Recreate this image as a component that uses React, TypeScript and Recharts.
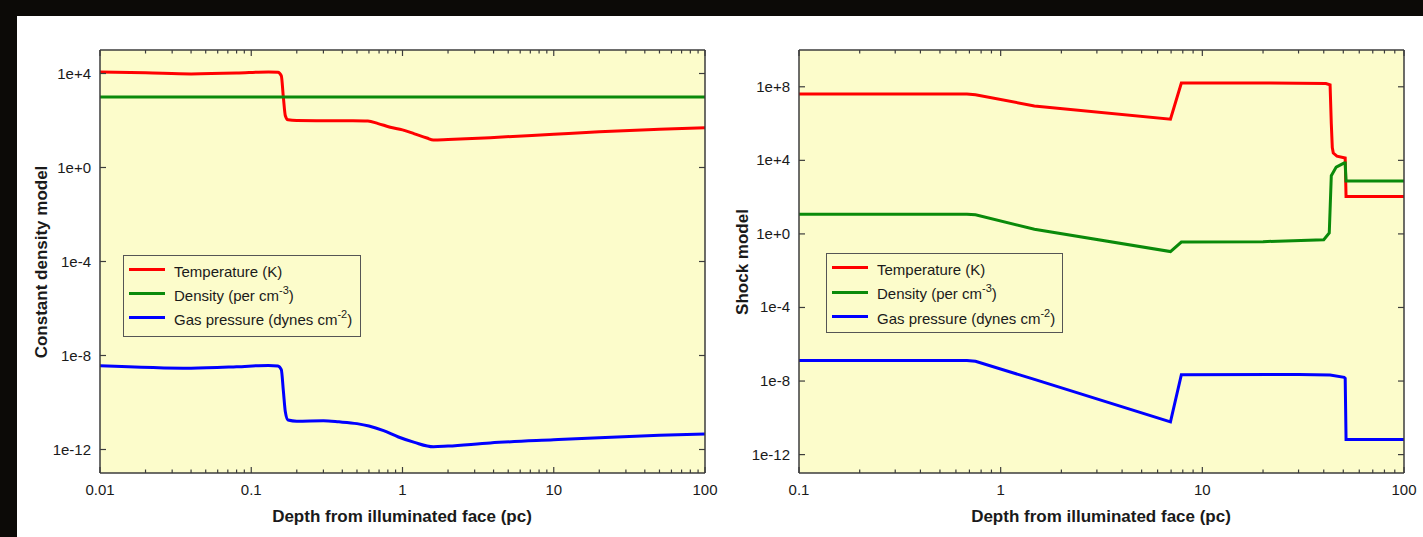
import React from 'react';
import { LineChart, Line, XAxis, YAxis, CartesianGrid, Legend } from 'recharts';

const FONT = '"Liberation Sans", Arial, Helvetica, sans-serif';
const PLOT_BG = '#fcfccb';
const AXIS = '#3c3c3c';
const TEXT = '#1a1a1a';
const RED = '#ff0000';
const GREEN = '#0a8a0a';
const BLUE = '#0000ff';

// ---- legend text ----
const legendMain = ['Temperature (K)', 'Density (per cm', 'Gas pressure (dynes cm'];
const legendSup = ['', '-3', '-2'];
const legendTail = ['', ')', ')'];
const legendColors = [RED, GREEN, BLUE];

// ---- axis ticks ----
const cdXMajors = [0.01, 0.1, 1, 10, 100];
const cdYMajors = [1e-12, 1e-8, 1e-4, 1, 1e4];
const shXMajors = [0.1, 1, 10, 100];
const shYMajors = [1e-12, 1e-8, 1e-4, 1, 1e4, 1e8];

// ---- constant density model ----
const cdTempDepth = [0.01, 0.02, 0.04, 0.08, 0.13, 0.15, 0.158, 0.163, 0.168, 0.175, 0.2, 0.3, 0.45, 0.59, 0.69, 0.83, 1.0, 1.2, 1.45, 1.6, 2.0, 3.8, 10, 20, 50, 100];
const cdTempValue = [1.15e4, 1.07e4, 9.6e3, 1.04e4, 1.17e4, 1.12e4, 8e3, 1e3, 160, 107, 100, 98, 97, 95, 74, 52, 40, 27, 18, 14.8, 15.6, 18.6, 26, 33, 42, 49];

const cdDensDepth = [0.01, 100];
const cdDensValue = [1000, 1000];

const cdPresDepth = [0.01, 0.04, 0.08, 0.13, 0.15, 0.158, 0.163, 0.168, 0.175, 0.2, 0.3, 0.38, 0.5, 0.6, 0.75, 0.94, 1.2, 1.6, 2.0, 3.8, 10, 20, 50, 100];
const cdPresValue = [3.7e-9, 2.9e-9, 3.3e-9, 3.8e-9, 3.6e-9, 2.5e-9, 3.2e-10, 4e-11, 1.8e-11, 1.6e-11, 1.66e-11, 1.5e-11, 1.26e-11, 1e-11, 6.3e-12, 3.4e-12, 2e-12, 1.3e-12, 1.4e-12, 1.9e-12, 2.6e-12, 3.2e-12, 4e-12, 4.6e-12];

// ---- shock model ----
const shTempDepth = [0.1, 0.68, 0.75, 1.47, 6.95, 7.87, 20, 41, 43, 43.6, 44.1, 44.6, 46.5, 51.1, 51.6, 100];
const shTempValue = [4e7, 4e7, 3.7e7, 9.1e6, 1.74e6, 1.6e8, 1.6e8, 1.5e8, 1.26e8, 1e6, 5e4, 2.5e4, 1.7e4, 1.35e4, 107, 107];

const shDensDepth = [0.1, 0.68, 0.75, 1.47, 6.95, 7.87, 20, 40, 42.6, 43.6, 46.1, 50.4, 51.1, 51.6, 100];
const shDensValue = [11.7, 11.7, 11, 1.78, 0.11, 0.36, 0.38, 0.48, 1.12, 1450, 4300, 7100, 7100, 760, 760];

const shPresDepth = [0.1, 0.68, 0.75, 1.47, 6.95, 7.87, 30, 43, 50.5, 51.1, 51.6, 100];
const shPresValue = [1.32e-7, 1.32e-7, 1.2e-7, 1.23e-8, 6e-11, 2.2e-8, 2.3e-8, 2.1e-8, 1.6e-8, 1.4e-8, 6.6e-12, 6.6e-12];

const zip = (d: number[], v: number[]) => d.map((x, i) => ({ d: x, v: v[i] }));

const isMajor = (v: number) => Math.abs(Math.log10(v) - Math.round(Math.log10(v))) < 1e-9;

const withMinor = (majors: number[]) => {
  const out: number[] = [];
  for (let i = 0; i < majors.length; i++) {
    out.push(majors[i]);
    if (i < majors.length - 1) for (let m = 2; m <= 9; m++) out.push(majors[i] * m);
  }
  return out;
};

const expLabel = (v: number) => {
  const e = Math.round(Math.log10(v));
  return `1e${e >= 0 ? '+' : ''}${e}`;
};

const BottomTick = (props: any) => {
  const { x, y, payload } = props;
  const major = isMajor(payload.value);
  return (
    <g>
      <line x1={x} x2={x} y1={y} y2={y - (major ? 6 : 3.5)} stroke={AXIS} strokeWidth={1.2} />
      {major && (
        <text x={x} y={y + 22} textAnchor="middle" fontSize={15} fontFamily={FONT} fill={TEXT}>
          {String(payload.value)}
        </text>
      )}
    </g>
  );
};

const TopTick = (props: any) => {
  const { x, y, payload } = props;
  const major = isMajor(payload.value);
  return <line x1={x} x2={x} y1={y} y2={y + (major ? 6 : 3.5)} stroke={AXIS} strokeWidth={1.2} />;
};

const LeftTick = (props: any) => {
  const { x, y, payload } = props;
  return (
    <g>
      <line x1={x} x2={x + 6} y1={y} y2={y} stroke={AXIS} strokeWidth={1.2} />
      <text x={x - 9} y={y + 5} textAnchor="end" fontSize={15} fontFamily={FONT} fill={TEXT}>
        {expLabel(payload.value)}
      </text>
    </g>
  );
};

const RightTick = (props: any) => {
  const { x, y } = props;
  return <line x1={x} x2={x - 6} y1={y} y2={y} stroke={AXIS} strokeWidth={1.2} />;
};

const LegendBox = ({ w, h, rowH }: { w: number; h: number; rowH: number }) => (
  <div
    style={{
      width: w,
      height: h,
      boxSizing: 'border-box',
      border: '1.5px solid #555',
      background: PLOT_BG,
      fontFamily: FONT,
      fontSize: 15,
      color: TEXT,
      padding: '3px 0 0 5px',
    }}
  >
    {legendMain.map((label, i) => (
      <div key={label} style={{ display: 'flex', alignItems: 'center', height: rowH, whiteSpace: 'nowrap' }}>
        <div style={{ width: 36, height: 3, background: legendColors[i], marginRight: 9, marginTop: -3 }} />
        <span>
          {label}
          {legendSup[i] && (
            <span style={{ fontSize: 11, position: 'relative', top: -7, lineHeight: 0 }}>{legendSup[i]}</span>
          )}
          {legendTail[i]}
        </span>
      </div>
    ))}
  </div>
);

type PanelProps = {
  width: number;
  margin: { top: number; right: number; bottom: number; left: number };
  xDomain: [number, number];
  xMajors: number[];
  yDomain: [number, number];
  yMajors: number[];
  temp: { d: number; v: number }[];
  dens: { d: number; v: number }[];
  pres: { d: number; v: number }[];
  legend: { left: number; top: number; w: number; h: number; rowH: number };
  curve: 'monotone' | 'linear';
};

const Panel = ({ width, margin, xDomain, xMajors, yDomain, yMajors, temp, dens, pres, legend, curve }: PanelProps) => {
  const xt = withMinor(xMajors);
  const axisLine = { stroke: AXIS, strokeWidth: 1.5 };
  return (
    <LineChart width={width} height={537} margin={margin}>
      <CartesianGrid fill={PLOT_BG} horizontal={false} vertical={false} stroke="none" />
      <XAxis
        dataKey="d"
        type="number"
        scale="log"
        domain={xDomain}
        allowDataOverflow
        ticks={xt}
        interval={0}
        tickSize={0}
        tickMargin={0}
        tickLine={false}
        axisLine={axisLine}
        tick={<BottomTick />}
        height={30}
      />
      <XAxis
        xAxisId="top"
        orientation="top"
        dataKey="d"
        type="number"
        scale="log"
        domain={xDomain}
        allowDataOverflow
        ticks={xt}
        interval={0}
        tickSize={0}
        tickMargin={0}
        tickLine={false}
        axisLine={axisLine}
        tick={<TopTick />}
        height={10}
      />
      <YAxis
        dataKey="v"
        type="number"
        scale="log"
        domain={yDomain}
        allowDataOverflow
        ticks={yMajors}
        interval={0}
        tickSize={0}
        tickMargin={0}
        tickLine={false}
        axisLine={axisLine}
        tick={<LeftTick />}
        width={60}
      />
      <YAxis
        yAxisId="right"
        orientation="right"
        dataKey="v"
        type="number"
        scale="log"
        domain={yDomain}
        allowDataOverflow
        ticks={yMajors}
        interval={0}
        tickSize={0}
        tickMargin={0}
        tickLine={false}
        axisLine={axisLine}
        tick={<RightTick />}
        width={10}
      />
      <Legend
        layout="vertical"
        align="center"
        verticalAlign="middle"
        wrapperStyle={{ left: legend.left, top: legend.top, width: legend.w, height: legend.h }}
        content={() => <LegendBox w={legend.w} h={legend.h} rowH={legend.rowH} />}
      />
      <Line data={temp} dataKey="v" name={legendMain[0]} type={curve} stroke={RED} strokeWidth={3} dot={false} activeDot={false} isAnimationActive={false} />
      <Line data={dens} dataKey="v" name={legendMain[1]} type={curve} stroke={GREEN} strokeWidth={3} dot={false} activeDot={false} isAnimationActive={false} />
      <Line data={pres} dataKey="v" name={legendMain[2]} type={curve} stroke={BLUE} strokeWidth={3} dot={false} activeDot={false} isAnimationActive={false} />
    </LineChart>
  );
};

const titleStyle: React.CSSProperties = {
  position: 'absolute',
  fontFamily: FONT,
  fontWeight: 'bold',
  fontSize: 17,
  color: TEXT,
  whiteSpace: 'nowrap',
};

export default function App() {
  return (
    <div
      style={{
        position: 'absolute',
        left: 0,
        top: 0,
        width: 1423,
        height: 537,
        background: '#0c0a07',
        overflow: 'hidden',
        fontFamily: FONT,
      }}
    >
      <div style={{ position: 'absolute', left: 17, top: 16, width: 1406, height: 521, background: '#ffffff' }} />
      <div style={{ position: 'absolute', left: 0, top: 0 }}>
        <Panel
          width={720}
          margin={{ top: 40, right: 5, bottom: 34, left: 40 }}
          xDomain={[0.01, 100]}
          xMajors={cdXMajors}
          yDomain={[1e-13, 1e5]}
          yMajors={cdYMajors}
          temp={zip(cdTempDepth, cdTempValue)}
          dens={zip(cdDensDepth, cdDensValue)}
          pres={zip(cdPresDepth, cdPresValue)}
          legend={{ left: 123, top: 255, w: 238, h: 82, rowH: 24 }}
          curve="monotone"
        />
      </div>
      <div style={{ position: 'absolute', left: 720, top: 0 }}>
        <Panel
          width={703}
          margin={{ top: 40, right: 9, bottom: 34, left: 19 }}
          xDomain={[0.1, 100]}
          xMajors={shXMajors}
          yDomain={[1e-13, 1e10]}
          yMajors={shYMajors}
          temp={zip(shTempDepth, shTempValue)}
          dens={zip(shDensDepth, shDensValue)}
          pres={zip(shPresDepth, shPresValue)}
          legend={{ left: 106, top: 253, w: 237, h: 80, rowH: 24.5 }}
          curve="linear"
        />
      </div>
      <div style={{ ...titleStyle, left: 42, top: 262, transform: 'translate(-50%, -50%) rotate(-90deg)' }}>
        Constant density model
      </div>
      <div style={{ ...titleStyle, left: 743, top: 262, transform: 'translate(-50%, -50%) rotate(-90deg)' }}>
        Shock model
      </div>
      <div style={{ ...titleStyle, left: 402, top: 517, transform: 'translate(-50%, -50%)' }}>
        Depth from illuminated face (pc)
      </div>
      <div style={{ ...titleStyle, left: 1101, top: 517, transform: 'translate(-50%, -50%)' }}>
        Depth from illuminated face (pc)
      </div>
    </div>
  );
}
